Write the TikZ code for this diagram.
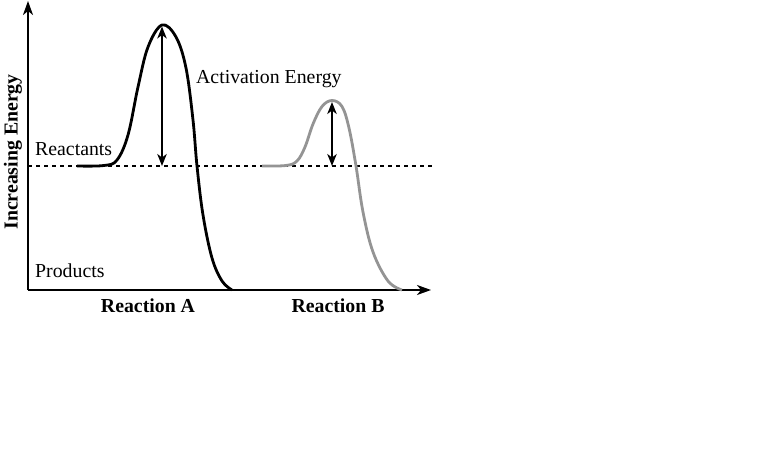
\documentclass[tikz,border=0pt]{standalone}
\usepackage{fontspec}
\setmainfont{Liberation Serif}
\usetikzlibrary{arrows.meta}
\begin{document}
\begin{tikzpicture}[x=1pt,y=-1pt,
  axis/.style={line width=1.9pt,-{Stealth[length=14pt,width=10pt,inset=4pt]}},
  curveA/.style={line width=2.8pt,black,line join=round},
  curveB/.style={line width=2.8pt,black!42,line join=round},
  gap/.style={line width=1.6pt,{Stealth[length=12pt,width=9.5pt,inset=3.5pt]}-{Stealth[length=12pt,width=9.5pt,inset=3.5pt]}},
  lbl/.style={font=\fontsize{19.8}{23}\selectfont,inner sep=0pt},
  blbl/.style={font=\fontsize{19.8}{23}\selectfont\bfseries,inner sep=0pt}
]
\useasboundingbox (0,0) rectangle (768,460);
% coordinates
\coordinate (O) at (28,290);
\coordinate (Ytop) at (28,1);
\coordinate (Xend) at (431,290);
\coordinate (dashL) at (28,166);
\coordinate (dashR) at (433,166);
\coordinate (Apeak) at (162,26.5);
\coordinate (Abase) at (162,166);
\coordinate (Bpeak) at (332,102);
\coordinate (Bbase) at (332,166);
% axes
\draw[axis] (O) -- (Ytop);
\draw[axis] (O) -- (Xend);
% reactant level
\draw[line width=1.4pt,dash pattern=on 4pt off 4pt] (dashL) -- (dashR);
% curve A
\draw[curveA] plot[smooth,tension=0.6] coordinates {
  (77,166) (104,165.5) (117,160) (128,135) (138,87) (148,47) (162,25)
  (176,37) (186,68) (193,120) (197,166) (203,215) (212,258) (222,281) (232,290)};
% curve B
\draw[curveB] plot[smooth,tension=0.6] coordinates {
  (262,166) (286,165.5) (297,161) (305,147) (313,124) (322,106.5) (332,100.5)
  (342,106.5) (349,128) (356,166) (363,212) (373,252) (388,281) (402,290)};
% activation energy arrows
\draw[gap] (Apeak) -- (Abase);
\draw[gap] (Bpeak) -- (Bbase);
% labels
\node[lbl,anchor=base west] (act) at (196,84) {Activation Energy};
\node[lbl,anchor=base west] (react) at (35,155) {Reactants};
\node[lbl,anchor=base west] (prod) at (35,277) {Products};
\node[blbl,anchor=base] (ra) at (148,312) {Reaction A};
\node[blbl,anchor=base] (rb) at (338,312) {Reaction B};
\node[blbl,rotate=90] (ylab) at (13,152) {Increasing Energy};
\end{tikzpicture}
\end{document}
